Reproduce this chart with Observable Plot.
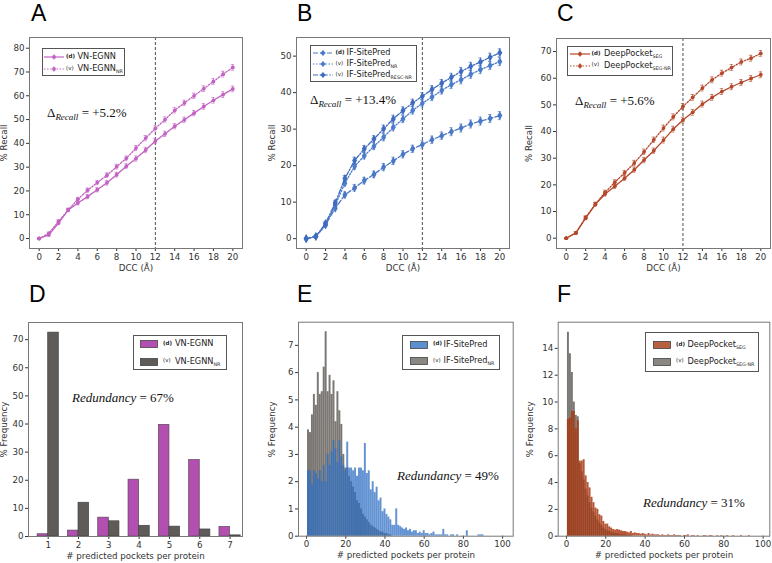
<!DOCTYPE html>
<html><head><meta charset="utf-8">
<script src="https://cdn.jsdelivr.net/npm/d3@7"></script>
<script src="https://cdn.jsdelivr.net/npm/@observablehq/plot@0.6"></script>
<style>
body{margin:0;background:#fff;}
#fig{position:relative;width:772px;height:563px;overflow:hidden;background:#fff;font-family:"DejaVu Sans",sans-serif;}
.lbl{position:absolute;font-family:"Liberation Sans",Arial,sans-serif;font-size:23px;line-height:1;color:#000;}
.leg{position:absolute;border:1px solid #555;background:#fff;box-sizing:border-box;}
.leg span{position:absolute;white-space:nowrap;line-height:1;color:#222;}
.ann{position:absolute;font-family:"Liberation Serif",serif;font-size:13px;white-space:nowrap;line-height:1;color:#111;}
</style></head><body><div id="fig"></div>
<script>
// ---------- data ----------
const dcc = [0,1,2,3,4,5,6,7,8,9,10,11,12,13,14,15,16,17,18,19,20];
const dccTicks = [0,2,4,6,8,10,12,14,16,18,20];
// Panel A
const vnEgnn   = [0,1.5,6.5,12,14.9,17.6,20.5,23.4,26.8,30.4,33.6,37.2,41,44,47.2,49.9,52.7,55.5,58.1,60.5,62.9];
const vnEgnnNR = [0,2.2,7.2,12,16.5,20.3,23.5,26.6,30.2,33.7,38,42.2,46.3,50,53.9,57,60,63,66,69.1,71.9];
const errA     = [0.2,0.5,0.7,0.7,0.8,0.9,0.9,1.0,1.0,1.0,1.1,1.1,1.1,1.1,1.1,1.1,1.1,1.2,1.2,1.2,1.2];
// Panel B
const ifSite       = [0,0.6,3.8,8.3,12.0,13.9,15.9,17.6,19.6,21.3,23.1,24.6,25.8,27.1,28.2,29.3,30.3,31.4,32.2,32.9,33.7];
const ifSiteNR     = [0,0.6,3.7,9.2,15.2,19.8,22.7,25.3,27.8,30.5,32.8,35.1,37.1,38.8,40.6,42.2,43.5,45,46.3,47.4,48.5];
const ifSiteRESCNR = [0,0.6,4.2,9.8,16.5,21.4,24.6,27.3,30.1,32.8,35.1,37.2,39,40.9,42.6,44.2,45.8,47.2,48.4,49.7,50.9];
const errB         = [0.2,0.3,0.5,0.7,0.8,0.9,0.9,0.9,1.0,1.0,1.0,1.0,1.0,1.0,1.0,1.1,1.1,1.1,1.1,1.1,1.1];
// Panel C
const dpSeg   = [0,2,7.5,12.7,16.6,19.5,22.5,25.7,29.3,32.8,36.8,40.9,44.3,47.2,50.3,52.8,55,56.8,58.4,59.9,61.3];
const dpSegNR = [0,2,7.8,12.8,17.2,21,24.5,28.2,32.4,36.9,41.3,45.5,49.4,52.8,56.3,59.4,61.9,64,66.1,67.5,69.3];
const errC    = [0.2,0.4,0.6,0.7,0.8,0.9,0.9,1.0,1.0,1.0,1.1,1.1,1.1,1.1,1.1,1.1,1.1,1.1,1.1,1.1,1.1];
// Panel D
const pocketsD   = [1,2,3,4,5,6,7];
const vnEgnnFreq   = [0.8,2.1,6.7,20.2,39.7,27.2,3.4];
const vnEgnnNRFreq = [72.5,12,5.4,3.8,3.5,2.5,0.4];
// Panel E (bins of 1, starting at 1)
const ifSiteFreq = [2.4,2.4,1.9,2.4,2.3,2.1,2.4,2.0,2.6,2.0,3.0,2.6,3.1,3.5,3.2,2.7,3.5,2.9,2.6,2.4,
  3.45,2.5,2.5,2.4,2.5,2.2,2.5,2.5,2.4,3.4,2.3,2.4,1.7,2.0,1.6,1.8,1.3,1.4,0.9,1.0,
  0.8,0.7,0.6,0.4,0.4,1.0,0.4,0.35,0.3,0.25,0.3,0.2,0.25,0.15,0.2,0.2,0.1,0.15,0.1,0.2,
  0.1,0.1,0.05,0.1,0.15,0.05,0.05,0.05,0.05,0.25,0.05,0.05,0,0.05,0.05,0,0.05,0,0,0,
  0,0.2,0,0,0,0,0,0.05,0.05,0.05];
const ifSiteNRFreq = [3.9,3.8,4.45,5.2,4.8,6.0,5.2,5.3,6.2,7.5,5.3,5.9,5.2,5.7,4.2,5.3,4.6,4.1,3.0,2.5,
  2.5,2.2,2.0,1.8,1.6,1.3,1.2,1.0,0.8,0.7,0.6,0.5,0.4,0.35,0.3,0.25,0.2,0.15,0.15,0.1,0.1,0.05,0.05];
// Panel F
const dpSegFreq = [8.7,8.8,9.3,9.3,8.0,8.6,5.6,5.6,5.7,4.5,4.0,3.6,2.9,2.5,2.1,2.0,1.6,1.5,1.1,0.9,
  0.9,0.7,0.6,0.5,0.45,0.5,0.45,0.4,0.35,0.35,0.3,0.25,0.35,0.2,0.25,0.2,0.2,0.15,0.2,0.15,
  0.1,0.2,0.1,0.15,0.1,0.1,0.1,0.05,0.1,0.05,0.05,0.1,0.05,0.05,0.1,0.05,0.05,0.05,0,0.05,
  0.05,0.1,0,0.05,0.05,0,0.05,0,0,0.05,0.05,0,0.05,0.05,0,0,0.05,0,0.05,0,
  0,0.05,0,0,0.05,0,0,0,0.05,0,0,0,0.05];
const dpSegNRFreq = [15.2,13.6,12.2,10.0,9.0,8.9,5.4,4.8,4.2,3.5,3.0,2.5,2.1,1.8,1.5,1.2,1.0,0.8,0.6,0.5,
  0.4,0.35,0.3,0.25,0.2,0.2,0.15,0.1,0.1,0.1,0.05,0.05,0.05];
const histTicks = [0,20,40,60,80,100];

// ---------- colours ----------
const MAG = "#c262c2", MAGBAR = "#b24fb0", GREYBAR = "#5f5b59";
const BLUEBAR = "#2f6fc4";
const RED = "#b4472a", REDBAR = "#a83a14";

const fig = document.getElementById("fig");
const baseStyle = {fontFamily:"DejaVu Sans", fontSize:"8.7px", color:"#333", background:"transparent", overflow:"visible"};
const fmtInt = d => String(d);

function place(svg, left, top){
  svg.style.position = "absolute";
  svg.style.left = left + "px";
  svg.style.top = top + "px";
  svg.style.maxWidth = "none";
  fig.appendChild(svg);
}

function recallPanel(o){
  const marks = [Plot.ruleX([12], {stroke:"#222", strokeWidth:0.8, strokeDasharray:"3,2"})];
  for (const s of o.series){
    const data = dcc.map((x,i)=>({x, y:s.values[i], e:o.err[i]}));
    marks.push(Plot.ruleX(data, {x:"x", y1:d=>d.y-d.e, y2:d=>d.y+d.e, stroke:s.color, strokeWidth:0.9, strokeOpacity:0.7}));
    marks.push(Plot.ruleY(data, {y:d=>d.y-d.e, x1:d=>d.x-0.17, x2:d=>d.x+0.17, stroke:s.color, strokeWidth:0.9, strokeOpacity:0.7}));
    marks.push(Plot.ruleY(data, {y:d=>d.y+d.e, x1:d=>d.x-0.17, x2:d=>d.x+0.17, stroke:s.color, strokeWidth:0.9, strokeOpacity:0.7}));
    marks.push(Plot.line(data, {x:"x", y:"y", stroke:s.color, strokeWidth:1.3, strokeDasharray:s.dash}));
    marks.push(Plot.dot(data, {x:"x", y:"y", fill:s.color, stroke:null, r:s.r, symbol:s.symbol}));
  }
  marks.push(Plot.axisX({ticks:dccTicks, tickFormat:fmtInt, tickSize:3, tickPadding:2, label:"DCC (Å)", labelAnchor:"center", labelOffset:22, labelArrow:"none"}));
  marks.push(Plot.axisY({ticks:o.yTicks, tickFormat:fmtInt, tickSize:3, tickPadding:2, label:"% Recall", labelAnchor:"center", labelOffset:o.lo, labelArrow:"none"}));
  marks.push(Plot.frame({stroke:"#777"}));
  const svg = Plot.plot({width:o.w, height:o.h, marginLeft:o.mL, marginRight:o.mR, marginTop:o.mT, marginBottom:o.mB,
    x:{domain:[-1,21]}, y:{domain:o.yd}, style:baseStyle, marks});
  place(svg, o.left, o.top);
}

function histPanel(o){
  const back = o.back.map((v,i)=>({x:i+1, y:v}));
  const front = o.front.map((v,i)=>({x:i+1, y:v}));
  const marks = [
    Plot.rect(back, {x1:d=>d.x-0.5, x2:d=>d.x+0.5, y1:()=>0, y2:"y", fill:o.backColor, fillOpacity:0.8, inset:0}),
    Plot.rect(front, {x1:d=>d.x-0.5, x2:d=>d.x+0.5, y1:()=>0, y2:"y", fill:o.frontColor, fillOpacity:o.frontOpacity, inset:0}),
    Plot.axisX({ticks:histTicks, tickFormat:fmtInt, tickSize:3, tickPadding:2, label:"# predicted pockets per protein", labelAnchor:"center", labelOffset:22, labelArrow:"none"}),
    Plot.axisY({ticks:o.yTicks, tickFormat:fmtInt, tickSize:3, tickPadding:2, label:"% Frequency", labelAnchor:"center", labelOffset:o.lo, labelArrow:"none"}),
    Plot.frame({stroke:"#777"})
  ];
  const svg = Plot.plot({width:o.w, height:o.h, marginLeft:o.mL, marginRight:o.mR, marginTop:o.mT, marginBottom:o.mB,
    x:{domain:o.xd}, y:{domain:o.yd}, style:baseStyle, marks});
  place(svg, o.left, o.top);
}

// Panel A
recallPanel({left:0, top:0, w:255, h:280, mL:29, mR:13, mT:37, mB:32, yd:[-4.2,84.5], yTicks:[0,10,20,30,40,50,60,70,80], lo:29, err:errA,
  series:[{values:vnEgnn, color:MAG, dash:null, r:1.9, symbol:"circle"},
          {values:vnEgnnNR, color:MAG, dash:"1.5,1.6", r:1.9, symbol:"circle"}]});
// Panel B
recallPanel({left:255, top:0, w:258, h:280, mL:41, mR:4, mT:37, mB:32, yd:[-2.7,55.1], yTicks:[0,10,20,30,40,50], lo:27.5, err:errB,
  series:[{values:ifSite, color:"#4a78c6", dash:"5,2", r:2.6, symbol:"diamond"},
          {values:ifSiteNR, color:"#4c7ccc", dash:"1.5,1.6", r:2.6, symbol:"diamond"},
          {values:ifSiteRESCNR, color:"#3f6cbf", dash:"5,1.6,1.5,1.6", r:2.6, symbol:"diamond"}]});
// Panel C
recallPanel({left:513, top:0, w:259, h:280, mL:43, mR:2, mT:38, mB:32, yd:[-3.86,74.9], yTicks:[0,10,20,30,40,50,60,70], lo:30.5, err:errC,
  series:[{values:dpSeg, color:RED, dash:null, r:1.9, symbol:"circle"},
          {values:dpSegNR, color:RED, dash:"1.5,1.6", r:1.9, symbol:"circle"}]});

// Panel D
{
  const data = pocketsD.map((p,i)=>({p, a:vnEgnnFreq[i], b:vnEgnnNRFreq[i]}));
  const svg = Plot.plot({width:255, height:283, marginLeft:28, marginRight:13, marginTop:42, marginBottom:27,
    x:{domain:[0.35,7.41]}, y:{domain:[0,76.1]}, style:baseStyle,
    marks:[
      Plot.rect(data, {x1:d=>d.p-0.35, x2:d=>d.p, y1:()=>0, y2:"a", fill:MAGBAR, stroke:"#5a4a5a", strokeWidth:0.7, inset:0}),
      Plot.rect(data, {x1:d=>d.p, x2:d=>d.p+0.35, y1:()=>0, y2:"b", fill:GREYBAR, stroke:"#444", strokeWidth:0.7, inset:0}),
      Plot.axisX({ticks:pocketsD, tickFormat:fmtInt, tickSize:3, tickPadding:2, label:"# predicted pockets per protein", labelAnchor:"center", labelOffset:22, labelArrow:"none"}),
      Plot.axisY({ticks:[0,10,20,30,40,50,60,70], tickFormat:fmtInt, tickSize:3, tickPadding:2, label:"% Frequency", labelAnchor:"center", labelOffset:28, labelArrow:"none"}),
      Plot.frame({stroke:"#777"})
    ]});
  place(svg, 0, 280);
}
// Panel E
histPanel({left:255, top:280, w:260, h:283, mL:43, mR:2.3, mT:41.7, mB:27.3, xd:[-4.1,105.4], yd:[0,7.85], yTicks:[0,1,2,3,4,5,6,7], lo:29.5,
  back:ifSiteNRFreq, backColor:"#5a5550", front:ifSiteFreq, frontColor:BLUEBAR, frontOpacity:0.75});
// Panel F
histPanel({left:513, top:280, w:259, h:283, mL:44.7, mR:2.7, mT:41.7, mB:27.3, xd:[-4.2,103.4], yd:[0,15.95], yTicks:[0,2,4,6,8,10,12,14], lo:31.5,
  back:dpSegNRFreq, backColor:"#5a5550", front:dpSegFreq, frontColor:REDBAR, frontOpacity:0.85});

// ---------- panel letters ----------
[["A",31,2],["B",297,2],["C",557,2],["D",29,283],["E",297,283],["F",557,283]].forEach(([t,x,y])=>{
  const d=document.createElement("div"); d.className="lbl"; d.textContent=t;
  d.style.left=x+"px"; d.style.top=y+"px"; fig.appendChild(d);
});

// ---------- legends ----------
function lineSample(color, dash, symbol){
  const mk = symbol==="diamond"
    ? `<path d="M10,1.2 L12.8,4 L10,6.8 L7.2,4Z" fill="${color}"/>`
    : `<circle cx="10" cy="4" r="1.9" fill="${color}"/>`;
  return `<svg width="20" height="8" style="display:block"><line x1="0" y1="4" x2="20" y2="4" stroke="${color}" stroke-width="1.2" ${dash?`stroke-dasharray="${dash}"`:""}/><line x1="10" y1="1" x2="10" y2="7" stroke="${color}" stroke-width="0.8" opacity="0.7"/>${mk}</svg>`;
}
function barSample(color, op){
  return `<svg width="18" height="8" style="display:block"><rect x="0.5" y="0.5" width="17" height="7" fill="${color}" fill-opacity="${op}" stroke="#444" stroke-width="0.8"/></svg>`;
}
function addLegend(L){
  const box=document.createElement("div"); box.className="leg";
  Object.assign(box.style,{left:L.left+"px",top:L.top+"px",width:L.w+"px",height:L.h+"px"});
  for(const r of L.rows){
    const s=document.createElement("span"); s.style.left=L.sx+"px"; s.style.top=(r.cy-4)+"px"; s.innerHTML=r.sample; box.appendChild(s);
    const t=document.createElement("span"); t.style.left=L.tx+"px"; t.style.top=(r.cy-3.2)+"px"; t.style.fontSize="5.5px";
    t.style.fontWeight = r.tag==="(d)" ? "bold" : "normal"; t.textContent=r.tag; box.appendChild(t);
    const n=document.createElement("span"); n.style.left=L.nx+"px"; n.style.top=(r.cy-4.8)+"px"; n.style.fontSize="8.2px";
    n.innerHTML = r.name + (r.sub?`<span style="position:relative;font-size:4.8px;top:2px;">${r.sub}</span>`:"");
    box.appendChild(n);
  }
  fig.appendChild(box);
}
addLegend({left:42, top:48, w:83, h:28, sx:1, tx:23, nx:34.5, rows:[
  {cy:8.2, sample:lineSample(MAG,null,"circle"), tag:"(d)", name:"VN-EGNN"},
  {cy:19.8, sample:lineSample(MAG,"1.5,1.6","circle"), tag:"(v)", name:"VN-EGNN", sub:"NR"}]});
addLegend({left:310, top:45, w:107, h:37, sx:2, tx:24.5, nx:35.5, rows:[
  {cy:7.2, sample:lineSample("#4a78c6","5,2","diamond"), tag:"(d)", name:"IF-SitePred"},
  {cy:17.8, sample:lineSample("#4c7ccc","1.5,1.6","diamond"), tag:"(v)", name:"IF-SitePred", sub:"NR"},
  {cy:29.2, sample:lineSample("#3f6cbf","5,1.6,1.5,1.6","diamond"), tag:"(v)", name:"IF-SitePred", sub:"RESC-NR"}]});
addLegend({left:567, top:45.5, w:106, h:30.5, sx:2, tx:23.5, nx:36, rows:[
  {cy:7.4, sample:lineSample(RED,null,"circle"), tag:"(d)", name:"DeepPocket", sub:"SEG"},
  {cy:19, sample:lineSample(RED,"1.5,1.6","circle"), tag:"(v)", name:"DeepPocket", sub:"SEG-NR"}]});
addLegend({left:133, top:335, w:94, h:35, sx:6, tx:29, nx:41, rows:[
  {cy:8, sample:barSample(MAGBAR,1), tag:"(d)", name:"VN-EGNN"},
  {cy:25.5, sample:barSample(GREYBAR,1), tag:"(v)", name:"VN-EGNN", sub:"NR"}]});
addLegend({left:402, top:335, w:98, h:35, sx:6.5, tx:30, nx:40.5, rows:[
  {cy:8.5, sample:barSample("#5b90d0",1), tag:"(d)", name:"IF-SitePred"},
  {cy:25, sample:barSample("#8a8682",1), tag:"(v)", name:"IF-SitePred", sub:"NR"}]});
addLegend({left:645, top:332, w:114, h:40, sx:7, tx:30, nx:41.5, rows:[
  {cy:11.8, sample:barSample("#b9613f",1), tag:"(d)", name:"DeepPocket", sub:"SEG"},
  {cy:28.5, sample:barSample("#8a8682",1), tag:"(v)", name:"DeepPocket", sub:"SEG-NR"}]});

// ---------- annotations ----------
function ann(html, x, cy){
  const d=document.createElement("div"); d.className="ann"; d.innerHTML=html;
  d.style.left=x+"px"; d.style.top=(cy-7)+"px"; fig.appendChild(d);
}
const delta = v => `Δ<span style="font-style:italic;font-size:9px;position:relative;top:3px;">Recall</span> = +${v}%`;
ann(delta("5.2"), 47, 113);
ann(delta("13.4"), 310, 99.5);
ann(delta("5.6"), 575, 101);
const red = v => `<i>Redundancy</i> = ${v}%`;
ann(red(67), 72, 398);
ann(red(49), 397, 476);
ann(red(31), 643, 503);
</script></body></html>
